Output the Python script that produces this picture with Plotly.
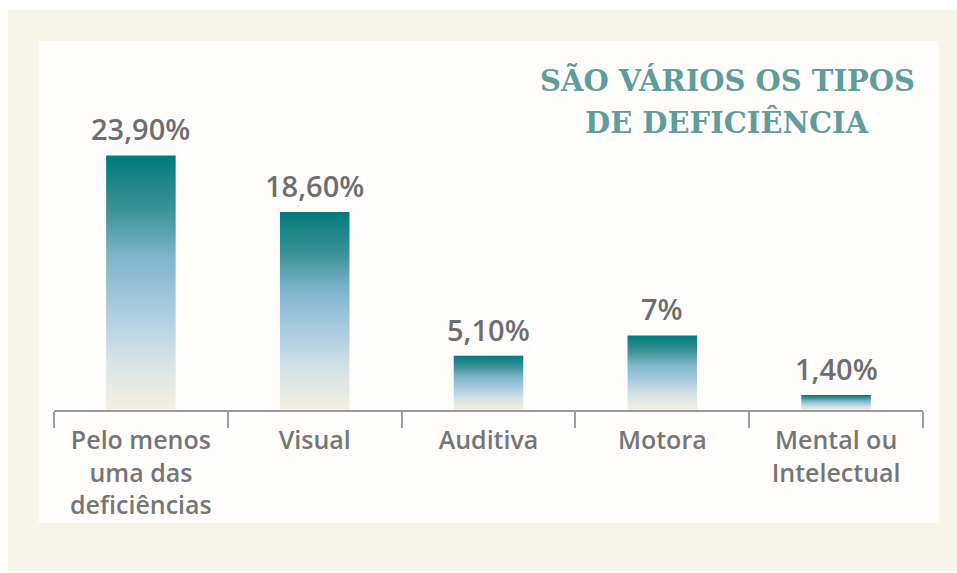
import plotly.graph_objects as go

categories = ["Pelo menos<br>uma das<br>deficiências", "Visual", "Auditiva", "Motora", "Mental ou<br>Intelectual"]
values = [23.9, 18.6, 5.1, 7.0, 1.4]
value_labels = ["23,90%", "18,60%", "5,10%", "7%", "1,40%"]
title_lines = ["SÃO VÁRIOS OS TIPOS", "DE DEFICIÊNCIA"]

W, H = 957, 573
ML, MR, MT, MB = 54, 34, 60, 163
PW, PH = W - ML - MR, H - MT - MB
YMAX = 32.86
HALF = 0.2

gradient = [
    [0.0, "#F3EFE2"],
    [0.2, "#D6E2E6"],
    [0.45, "#9DC6DB"],
    [0.6, "#80B5CC"],
    [0.78, "#3E9498"],
    [1.0, "#007A7C"],
]

def px_x(p):
    return (p - ML) / PW

def px_y(p):
    return (H - MB - p) / PH

fig = go.Figure()
for i, v in enumerate(values):
    fig.add_trace(go.Scatter(
        x=[i - HALF, i - HALF, i + HALF, i + HALF, i - HALF],
        y=[0, v, v, 0, 0],
        mode="lines",
        fill="toself",
        line=dict(width=0, color="rgba(0,0,0,0)"),
        fillgradient=dict(type="vertical", colorscale=gradient, start=0, stop=v),
        hoverinfo="skip",
        showlegend=False,
    ))

for i, (v, t) in enumerate(zip(values, value_labels)):
    fig.add_annotation(
        x=i, y=v, text=t, showarrow=False, xref="x", yref="y",
        yanchor="bottom", yshift=5,
        font=dict(family="Open Sans", size=29, color="#6E6E6E", weight=600),
    )

for k, (line, py) in enumerate(zip(title_lines, [80, 122])):
    fig.add_annotation(
        x=px_x(727), y=px_y(py), xref="paper", yref="paper",
        text=line, showarrow=False, xanchor="center", yanchor="middle",
        font=dict(family="DejaVu Serif", size=29, color="#5E9D99", weight="bold"),
    )

# background panels
fig.add_shape(type="rect", xref="paper", yref="paper", layer="below",
              x0=px_x(8), x1=px_x(957), y0=px_y(572), y1=px_y(10),
              fillcolor="#F7F4E9", line=dict(width=0))
fig.add_shape(type="rect", xref="paper", yref="paper", layer="below",
              x0=px_x(39), x1=px_x(939), y0=px_y(523), y1=px_y(41),
              fillcolor="#FEFDFB", line=dict(width=0))

fig.update_layout(
    width=W, height=H,
    margin=dict(l=ML, r=MR, t=MT, b=MB, pad=0),
    paper_bgcolor="#FFFFFF",
    plot_bgcolor="rgba(0,0,0,0)",
    showlegend=False,
    xaxis=dict(
        range=[-0.5, len(categories) - 0.5],
        tickmode="array",
        tickvals=list(range(len(categories))),
        ticktext=categories,
        ticks="",
        showline=True, linecolor="#9C9C9C", linewidth=2,
        showgrid=False, zeroline=False,
        tickfont=dict(family="Open Sans", size=25, color="#767676", weight=600),
        ticklabelstandoff=7,
        minor=dict(
            tickmode="array",
            tickvals=[i - 0.5 for i in range(len(categories) + 1)],
            ticks="outside", ticklen=16, tickwidth=2, tickcolor="#9C9C9C",
            showgrid=False,
        ),
        fixedrange=True,
    ),
    yaxis=dict(
        range=[0, YMAX], visible=False, showgrid=False, zeroline=False,
        fixedrange=True,
    ),
)

fig.write_html("out.html")
